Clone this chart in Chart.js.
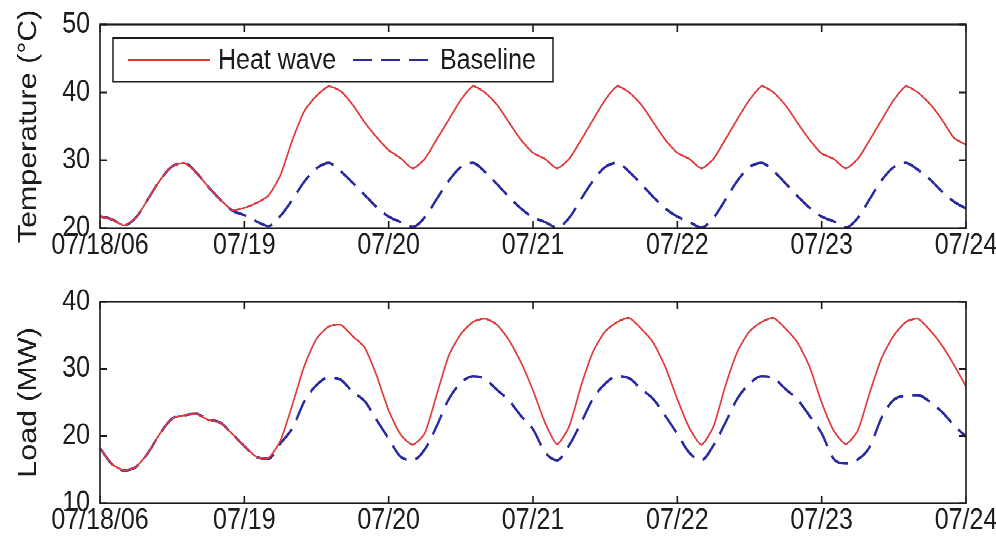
<!DOCTYPE html>
<html>
<head>
<meta charset="utf-8">
<script src="https://cdn.jsdelivr.net/npm/chart.js@4.4.1/dist/chart.umd.min.js"></script>
<style>
  html, body { margin: 0; padding: 0; background: #fff; overflow: hidden; }
  /* the source figure is stretched vertically, so draw flat and stretch */
  #stage { position: absolute; left: 0; top: 0; width: 996px; height: 463px;
           transform: scaleY(1.17); transform-origin: 0 0; }
  #stage canvas { position: absolute; left: 0; }
</style>
</head>
<body>
<div id="stage">
  <canvas id="temp" width="996" height="231" style="top:0"></canvas>
  <canvas id="load" width="996" height="232" style="top:231px"></canvas>
</div>
<script>
// Heat wave vs baseline, 07/18/06 - 07/24, sampled every 2 hours.

const HOURS = [
  0, 2, 4, 6, 8, 10, 12, 14, 16, 18, 20, 22,
  24, 26, 28, 30, 32, 34, 36, 38, 40, 42, 44, 46,
  48, 50, 52, 54, 56, 58, 60, 62, 64, 66, 68, 70,
  72, 74, 76, 78, 80, 82, 84, 86, 88, 90, 92, 94,
  96, 98, 100, 102, 104, 106, 108, 110, 112, 114, 116, 118,
  120, 122, 124, 126, 128, 130, 132, 134, 136, 138, 140, 142,
  144
];

const DAY_TICKS = ["07/18/06", "07/19", "07/20", "07/21", "07/22", "07/23", "07/24"];

const SERIES_NAMES = ["Heat wave", "Baseline"];

const TEMP_HEAT = [
  21.7, 21.3, 20.4, 21.6, 24.3, 27.1, 29.1, 29.6, 28.2, 26.1, 24.2, 22.7,
  23.0, 23.7, 24.8, 27.8, 33.0, 37.3, 39.5, 40.9, 40.2, 38.2, 35.6, 33.4,
  31.5, 30.3, 28.8, 30.2, 33.1, 36.0, 38.9, 40.9, 40.0, 38.2, 35.6, 33.0,
  31.1, 30.2, 28.8, 30.2, 33.0, 36.0, 38.9, 40.9, 40.0, 38.2, 35.6, 33.0,
  31.1, 30.2, 28.8, 30.2, 33.1, 36.1, 38.9, 40.9, 40.0, 38.1, 35.5, 33.0,
  31.0, 30.2, 28.8, 30.2, 33.0, 36.0, 38.9, 40.9, 40.0, 38.3, 36.0, 33.3,
  32.3
];

const TEMP_BASE = [
  21.7, 21.3, 20.4, 21.6, 24.3, 27.1, 29.1, 29.6, 28.2, 26.1, 24.2, 22.6,
  21.9, 21.0, 20.3, 21.8, 24.2, 26.9, 28.8, 29.6, 28.4, 26.7, 24.9, 23.1,
  21.7, 20.9, 20.2, 21.6, 24.3, 27.0, 29.0, 29.6, 28.3, 26.5, 24.6, 22.9,
  21.6, 20.9, 20.1, 21.5, 24.3, 27.0, 29.0, 29.6, 28.3, 26.5, 24.6, 22.9,
  21.7, 20.9, 20.1, 21.5, 24.2, 27.0, 29.0, 29.6, 28.4, 26.6, 24.7, 23.0,
  21.7, 21.0, 20.1, 21.5, 24.3, 27.1, 29.0, 29.6, 28.6, 27.2, 25.4, 23.9,
  22.9
];

const LOAD_HEAT = [
  18.2, 15.8, 14.9, 15.4, 17.5, 20.4, 22.6, 23.1, 23.3, 22.4, 22.0, 20.3,
  18.5, 16.9, 16.7, 19.3, 24.7, 30.5, 34.5, 36.3, 36.6, 34.9, 33.2, 29.0,
  23.8, 20.2, 18.7, 20.4, 26.2, 32.0, 35.2, 37.0, 37.5, 36.6, 34.3, 31.0,
  26.8, 22.0, 18.8, 21.4, 27.5, 32.6, 35.6, 37.0, 37.6, 36.0, 33.9, 30.3,
  25.5, 21.2, 18.7, 21.4, 27.5, 32.6, 35.6, 37.0, 37.6, 36.0, 33.9, 30.3,
  25.0, 20.8, 18.8, 20.8, 26.5, 31.7, 35.0, 37.0, 37.5, 35.8, 33.5, 30.6,
  27.4
];

const LOAD_BASE = [
  18.2, 15.8, 14.9, 15.4, 17.5, 20.4, 22.6, 23.1, 23.3, 22.4, 22.0, 20.3,
  18.5, 16.9, 16.6, 18.9, 21.2, 25.2, 27.6, 28.7, 28.4, 26.6, 25.2, 22.4,
  19.6, 16.9, 16.4, 18.0, 21.5, 25.5, 27.9, 28.9, 28.5, 26.9, 25.3, 23.0,
  21.0, 17.6, 16.4, 18.6, 22.0, 25.6, 27.8, 28.9, 28.6, 27.0, 25.5, 23.0,
  20.3, 17.5, 16.4, 18.6, 22.0, 25.6, 27.8, 28.9, 28.6, 27.0, 25.4, 23.0,
  20.4, 16.6, 15.9, 16.5, 18.4, 22.8, 25.4, 26.0, 26.1, 25.1, 23.6, 21.6,
  19.9
];

const RED  = "#e03a3a";
const BLUE = "#2a2aa0";
const INK  = "#1c1c1c";
const FONT = "'Liberation Sans', Arial, Helvetica, sans-serif";

Chart.defaults.font.family = FONT;
Chart.defaults.color = INK;

// box around the plot with inward ticks on all four sides (matlab style)
const framePlugin = {
  id: "frame",
  afterDatasetsDraw(chart) {
    const { ctx, chartArea: a, scales: { x, y } } = chart;
    ctx.save();
    ctx.strokeStyle = INK;
    ctx.lineWidth = 1.6;
    ctx.beginPath();
    x.ticks.forEach(t => {
      const px = x.getPixelForValue(t.value);
      ctx.moveTo(px, a.bottom); ctx.lineTo(px, a.bottom - 6);
      ctx.moveTo(px, a.top);    ctx.lineTo(px, a.top + 6);
    });
    y.ticks.forEach(t => {
      const py = y.getPixelForValue(t.value);
      ctx.moveTo(a.left, py);  ctx.lineTo(a.left + 7, py);
      ctx.moveTo(a.right, py); ctx.lineTo(a.right - 7, py);
    });
    ctx.stroke();
    ctx.strokeRect(a.left, a.top, a.right - a.left, a.bottom - a.top);
    ctx.restore();
  }
};

// boxed legend in the top-left corner of the temperature panel
const legendPlugin = {
  id: "boxLegend",
  afterDraw(chart) {
    const ctx = chart.ctx;
    const ds = chart.data.datasets;
    const top = 32.5, bottom = 70, mid = (top + bottom) / 2;
    ctx.save();
    ctx.fillStyle = "#fff";
    ctx.fillRect(113, top, 440, bottom - top);
    ctx.strokeStyle = INK;
    ctx.lineWidth = 1.5;
    ctx.strokeRect(113, top, 440, bottom - top);

    ctx.lineWidth = ds[0].borderWidth;
    ctx.strokeStyle = ds[0].borderColor;
    ctx.beginPath(); ctx.moveTo(128, mid); ctx.lineTo(210, mid); ctx.stroke();

    ctx.lineWidth = ds[1].borderWidth;
    ctx.strokeStyle = ds[1].borderColor;
    ctx.setLineDash(ds[1].borderDash);
    ctx.beginPath(); ctx.moveTo(353, mid); ctx.lineTo(433, mid); ctx.stroke();
    ctx.setLineDash([]);

    ctx.fillStyle = INK;
    ctx.font = "25px " + FONT;
    ctx.textBaseline = "middle";
    ctx.textAlign = "left";
    ctx.fillText(ds[0].label, 218, mid + 1);
    ctx.fillText(ds[1].label, 440, mid + 1);
    ctx.restore();
  }
};

function makePanel(canvasId, heat, base, yMin, yMax, yTitle, padTop, xHeight, extraPlugins) {
  return new Chart(document.getElementById(canvasId), {
    type: "line",
    data: {
      labels: HOURS,
      datasets: [
        { label: SERIES_NAMES[0], data: heat, borderColor: RED, borderWidth: 1.6,
          pointRadius: 0, tension: 0.2 },
        { label: SERIES_NAMES[1], data: base, borderColor: BLUE, borderWidth: 2.3,
          borderDash: [19, 9], pointRadius: 0, cubicInterpolationMode: "monotone" }
      ]
    },
    options: {
      responsive: false,
      animation: false,
      devicePixelRatio: 2,
      layout: { padding: { left: 0, top: padTop, right: 30, bottom: 0 } },
      plugins: { legend: { display: false }, tooltip: { enabled: false } },
      scales: {
        x: {
          type: "linear", min: 0, max: 144,
          grid: { display: false, drawTicks: false },
          border: { display: false },
          ticks: {
            stepSize: 24, autoSkip: false, maxRotation: 0, padding: 0,
            font: { size: 25 }, color: INK,
            callback: v => DAY_TICKS[v / 24]
          },
          afterFit(s) { s.height = xHeight; s.paddingLeft = 0; s.paddingRight = 0; }
        },
        y: {
          min: yMin, max: yMax,
          grid: { display: false, drawTicks: false },
          border: { display: false },
          ticks: { stepSize: 10, padding: 10, font: { size: 25 }, color: INK },
          title: { display: true, text: yTitle, font: { size: 26 }, color: INK,
                   padding: { top: 13, bottom: 0 } },
          afterFit(s) { s.width = 100; s.paddingTop = 0; s.paddingBottom = 0; }
        }
      }
    },
    plugins: [framePlugin].concat(extraPlugins)
  });
}

makePanel("temp", TEMP_HEAT, TEMP_BASE, 20, 50, "Temperature (°C)", 21, 36, [legendPlugin]);
makePanel("load", LOAD_HEAT, LOAD_BASE, 10, 40, "Load (MW)", 27, 33, []);
</script>
</body>
</html>
